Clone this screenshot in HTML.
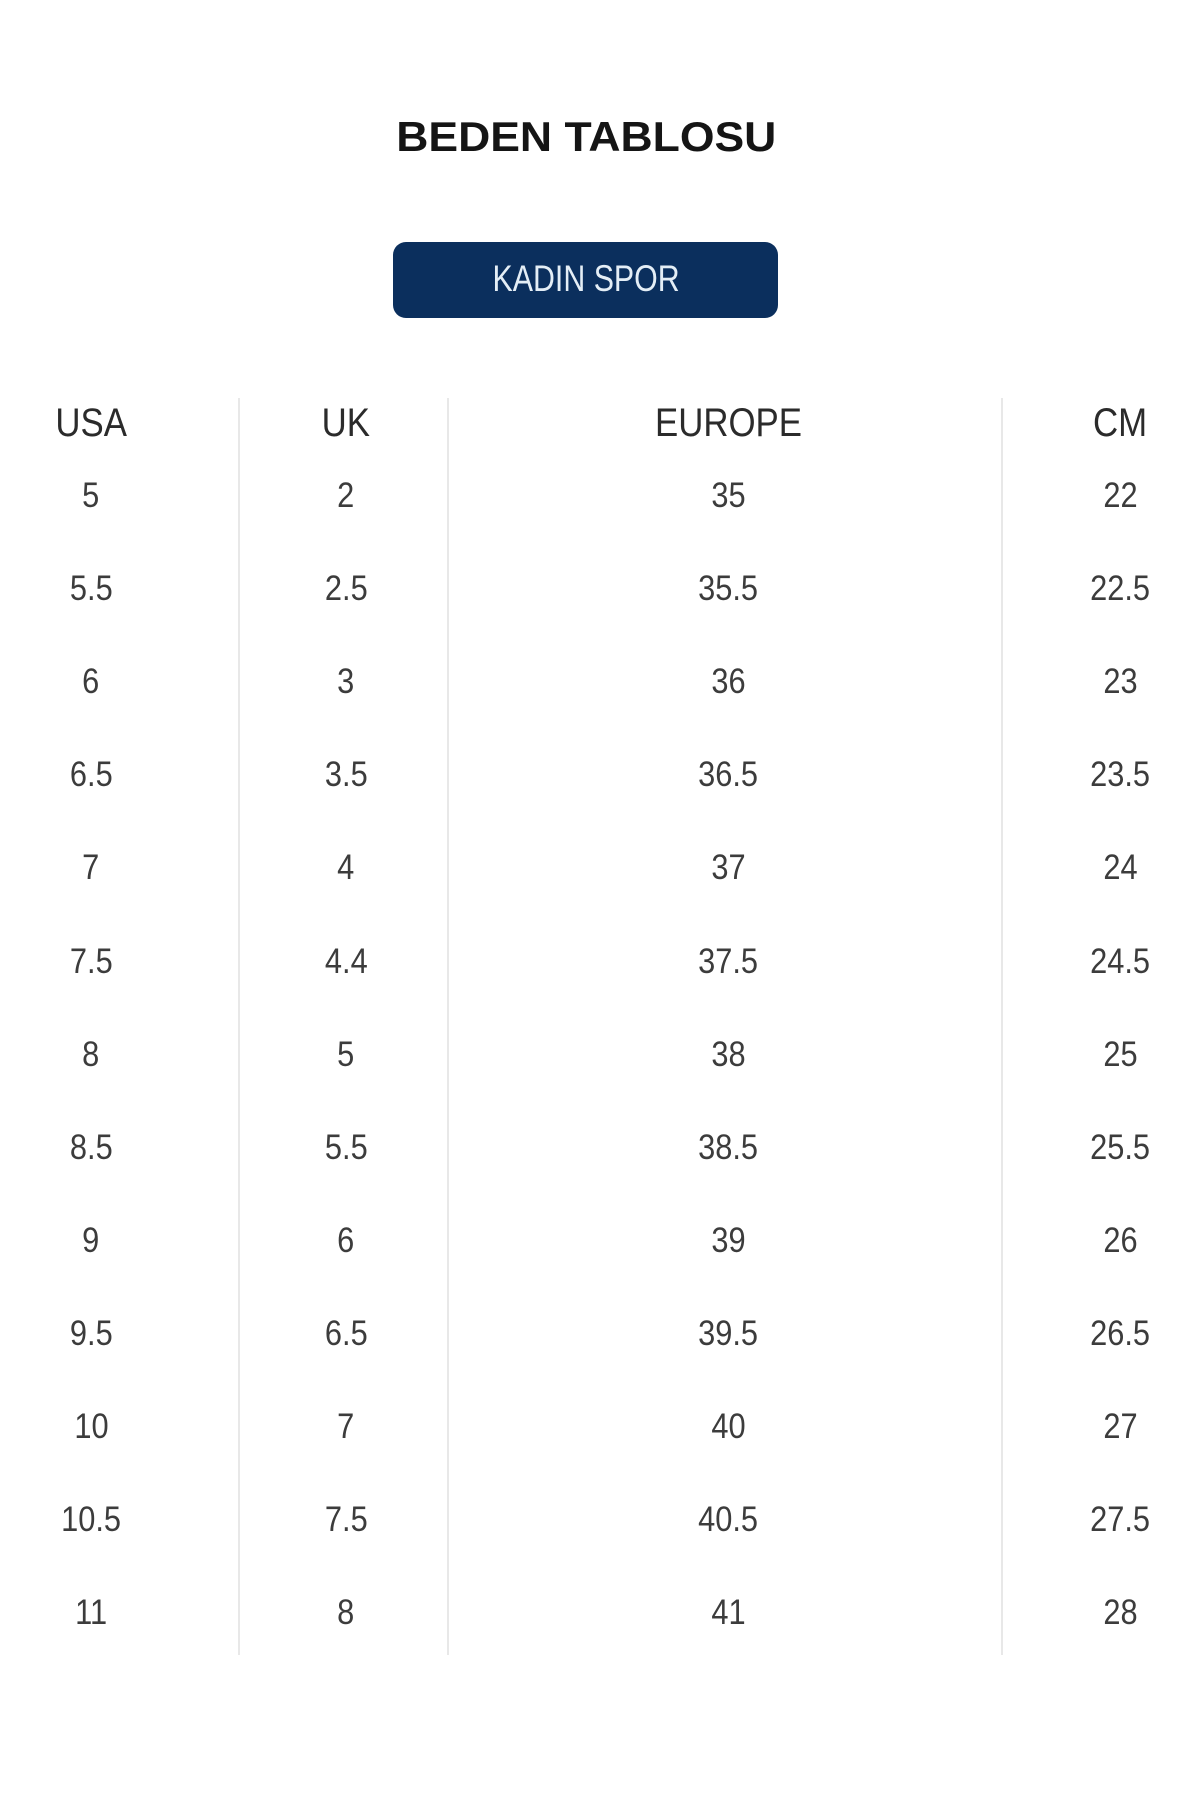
<!DOCTYPE html>
<html>
<head>
<meta charset="utf-8">
<style>
  html, body { margin:0; padding:0; }
  body { width:1200px; height:1800px; background:#ffffff; position:relative; overflow:hidden;
         font-family:"Liberation Sans", sans-serif; }
  .t { position:absolute; width:300px; text-align:center; white-space:nowrap; line-height:1; }
  .t span { display:inline-block; }
  .title { width:600px; font-size:42px; font-weight:bold; color:#151515; }
  .title span { transform:scaleX(1.06); }
  .btn { position:absolute; left:393px; top:242px; width:385px; height:76px; background:#0b2f5d; border-radius:13px; }
  .btntxt { font-size:37px; color:#e4eef6; }
  .btntxt span { transform:scaleX(0.82); }
  .hd { font-size:40px; color:#2b2b2b; }
  .hd span { transform:scaleX(0.87); }
  .d { font-size:35px; color:#3c3c3c; }
  .d span { transform:scaleX(0.88); }
  .vl { position:absolute; top:398px; width:2px; height:1257px; background:#e8e8e8; }
</style>
</head>
<body>
  <div class="t title" style="left:286px; top:116px;"><span>BEDEN TABLOSU</span></div>
  <div class="btn"></div>
  <div class="t btntxt" style="left:436px; top:260px;"><span>KADIN SPOR</span></div>

  <div class="vl" style="left:238px;"></div>
  <div class="vl" style="left:447px;"></div>
  <div class="vl" style="left:1001px;"></div>

  <div class="t hd" style="left:-59px; top:403px;"><span>USA</span></div>
  <div class="t hd" style="left:196px; top:403px;"><span>UK</span></div>
  <div class="t hd" style="left:578px; top:403px;"><span>EUROPE</span></div>
  <div class="t hd" style="left:970px; top:403px;"><span>CM</span></div>

  <div class="t d" style="left:-59px; top:478px;"><span>5</span></div>
  <div class="t d" style="left:196px; top:478px;"><span>2</span></div>
  <div class="t d" style="left:578px; top:478px;"><span>35</span></div>
  <div class="t d" style="left:970px; top:478px;"><span>22</span></div>

  <div class="t d" style="left:-59px; top:571px;"><span>5.5</span></div>
  <div class="t d" style="left:196px; top:571px;"><span>2.5</span></div>
  <div class="t d" style="left:578px; top:571px;"><span>35.5</span></div>
  <div class="t d" style="left:970px; top:571px;"><span>22.5</span></div>

  <div class="t d" style="left:-59px; top:664px;"><span>6</span></div>
  <div class="t d" style="left:196px; top:664px;"><span>3</span></div>
  <div class="t d" style="left:578px; top:664px;"><span>36</span></div>
  <div class="t d" style="left:970px; top:664px;"><span>23</span></div>

  <div class="t d" style="left:-59px; top:757px;"><span>6.5</span></div>
  <div class="t d" style="left:196px; top:757px;"><span>3.5</span></div>
  <div class="t d" style="left:578px; top:757px;"><span>36.5</span></div>
  <div class="t d" style="left:970px; top:757px;"><span>23.5</span></div>

  <div class="t d" style="left:-59px; top:850px;"><span>7</span></div>
  <div class="t d" style="left:196px; top:850px;"><span>4</span></div>
  <div class="t d" style="left:578px; top:850px;"><span>37</span></div>
  <div class="t d" style="left:970px; top:850px;"><span>24</span></div>

  <div class="t d" style="left:-59px; top:944px;"><span>7.5</span></div>
  <div class="t d" style="left:196px; top:944px;"><span>4.4</span></div>
  <div class="t d" style="left:578px; top:944px;"><span>37.5</span></div>
  <div class="t d" style="left:970px; top:944px;"><span>24.5</span></div>

  <div class="t d" style="left:-59px; top:1037px;"><span>8</span></div>
  <div class="t d" style="left:196px; top:1037px;"><span>5</span></div>
  <div class="t d" style="left:578px; top:1037px;"><span>38</span></div>
  <div class="t d" style="left:970px; top:1037px;"><span>25</span></div>

  <div class="t d" style="left:-59px; top:1130px;"><span>8.5</span></div>
  <div class="t d" style="left:196px; top:1130px;"><span>5.5</span></div>
  <div class="t d" style="left:578px; top:1130px;"><span>38.5</span></div>
  <div class="t d" style="left:970px; top:1130px;"><span>25.5</span></div>

  <div class="t d" style="left:-59px; top:1223px;"><span>9</span></div>
  <div class="t d" style="left:196px; top:1223px;"><span>6</span></div>
  <div class="t d" style="left:578px; top:1223px;"><span>39</span></div>
  <div class="t d" style="left:970px; top:1223px;"><span>26</span></div>

  <div class="t d" style="left:-59px; top:1316px;"><span>9.5</span></div>
  <div class="t d" style="left:196px; top:1316px;"><span>6.5</span></div>
  <div class="t d" style="left:578px; top:1316px;"><span>39.5</span></div>
  <div class="t d" style="left:970px; top:1316px;"><span>26.5</span></div>

  <div class="t d" style="left:-59px; top:1409px;"><span>10</span></div>
  <div class="t d" style="left:196px; top:1409px;"><span>7</span></div>
  <div class="t d" style="left:578px; top:1409px;"><span>40</span></div>
  <div class="t d" style="left:970px; top:1409px;"><span>27</span></div>

  <div class="t d" style="left:-59px; top:1502px;"><span>10.5</span></div>
  <div class="t d" style="left:196px; top:1502px;"><span>7.5</span></div>
  <div class="t d" style="left:578px; top:1502px;"><span>40.5</span></div>
  <div class="t d" style="left:970px; top:1502px;"><span>27.5</span></div>

  <div class="t d" style="left:-59px; top:1595px;"><span>11</span></div>
  <div class="t d" style="left:196px; top:1595px;"><span>8</span></div>
  <div class="t d" style="left:578px; top:1595px;"><span>41</span></div>
  <div class="t d" style="left:970px; top:1595px;"><span>28</span></div>
</body>
</html>
